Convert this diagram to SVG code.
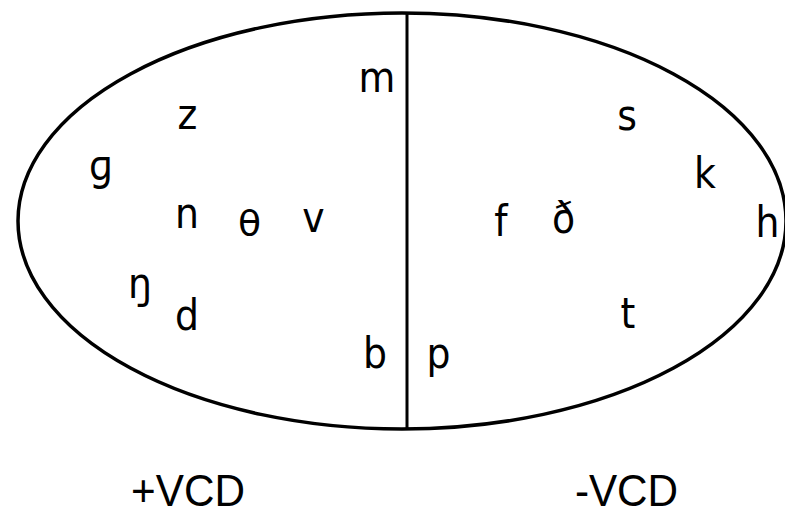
<svg xmlns="http://www.w3.org/2000/svg" width="785" height="516" viewBox="0 0 785 516">
<style>
.o{fill:none;stroke:#000;stroke-width:3.5}
.l{stroke:#000;stroke-width:3}
.p{font-family:"DejaVu Sans",sans-serif;font-size:42px;fill:#000;text-anchor:middle}
.c{font-family:"Liberation Sans",Arial,sans-serif;font-size:44px;fill:#000;text-anchor:middle}
</style>
<rect width="785" height="516" fill="#fff"/>
<g id="set">
<ellipse class="o" cx="402" cy="221" rx="384" ry="208"/>
</g>
<g id="connectors">
<line class="l" x1="407" y1="12" x2="407" y2="430"/>
</g>
<g id="phonemes">
<g id="m"><text class="p" transform="translate(377,92) scale(0.9,1)">m</text></g>
<g id="z"><text class="p" transform="translate(187.5,129) scale(0.9,1)">z</text></g>
<g id="s"><text class="p" transform="translate(627,130) scale(0.9,1)">s</text></g>
<g id="g"><text class="p" transform="translate(101,180) scale(0.9,1)">ɡ</text></g>
<g id="k"><text class="p" transform="translate(705,188) scale(0.9,1)">k</text></g>
<g id="n"><text class="p" transform="translate(187,228) scale(0.9,1)">n</text></g>
<g id="theta"><text class="p" transform="translate(249.5,236) scale(0.9,0.85)">θ</text></g>
<g id="v"><text class="p" transform="translate(313.5,232) scale(0.9,1)">v</text></g>
<g id="f"><text class="p" transform="translate(501,236) scale(0.9,1)">f</text></g>
<g id="eth"><text class="p" transform="translate(563.5,233) scale(0.9,1)">ð</text></g>
<g id="h"><text class="p" transform="translate(767.5,237) scale(0.9,1)">h</text></g>
<g id="eng"><text class="p" transform="translate(140,298) scale(0.9,1)">ŋ</text></g>
<g id="d"><text class="p" transform="translate(187,330) scale(0.9,1)">d</text></g>
<g id="t"><text class="p" transform="translate(628,328) scale(0.9,1)">t</text></g>
<g id="b"><text class="p" transform="translate(375,368) scale(0.9,1)">b</text></g>
<g id="p"><text class="p" transform="translate(438.5,368) scale(0.9,1)">p</text></g>
</g>
<g id="labels">
<g id="vcd-plus"><text class="c" transform="translate(188,506) scale(0.96,1)">+VCD</text></g>
<g id="vcd-minus"><text class="c" transform="translate(626.5,506) scale(0.96,1)">-VCD</text></g>
</g>
</svg>
